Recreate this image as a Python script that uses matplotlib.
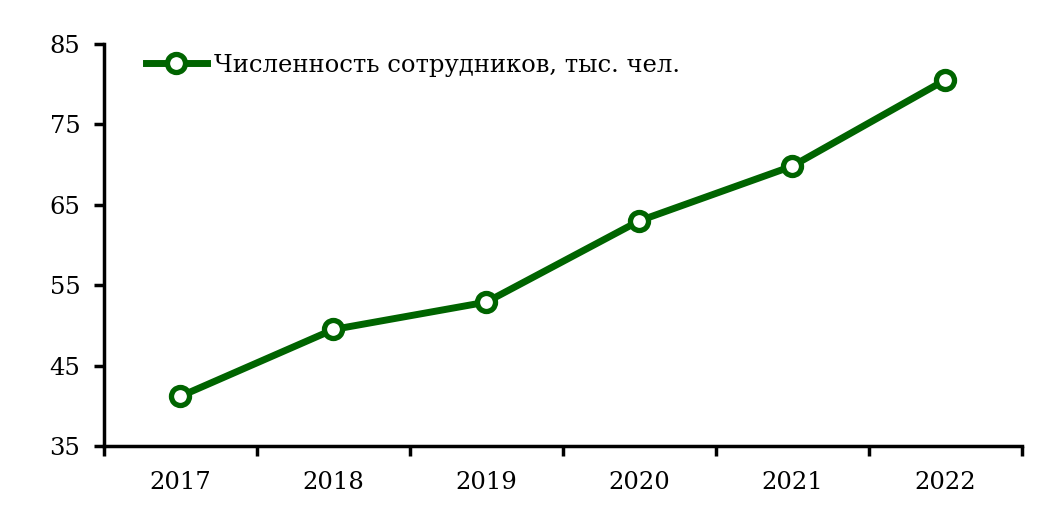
import matplotlib
matplotlib.use("Agg")
import matplotlib.pyplot as plt
from matplotlib.lines import Line2D

years = ["2017", "2018", "2019", "2020", "2021", "2022"]
staff = [41.2, 49.5, 52.9, 63.0, 69.8, 80.5]
y_ticks = [35, 45, 55, 65, 75, 85]
series_label = "Численность сотрудников, тыс. чел."

plt.rcParams['font.family'] = ['DejaVu Serif']
fig = plt.figure(figsize=(10.5, 5.28), dpi=100)
ax = fig.add_axes([0.099, 0.155, 0.874, 0.762])

green = "#006400"
FS = 17.5
x = list(range(len(years)))
ax.plot(x, staff, color=green, lw=5, marker="o", markersize=13,
        markerfacecolor="white", markeredgecolor=green, markeredgewidth=3.8,
        solid_capstyle="round", zorder=3)

ax.set_xlim(-0.5, len(years) - 0.5)
ax.set_ylim(35, 85)
ax.set_yticks(y_ticks)
ax.set_yticklabels([str(v) for v in y_ticks], fontsize=FS)
ax.set_xticks([i - 0.5 for i in range(len(years) + 1)], minor=False)
ax.set_xticklabels([])
ax.set_xticks(x, minor=True)
ax.set_xticklabels(years, minor=True, fontsize=FS)
ax.tick_params(axis="x", which="minor", length=0, pad=18)
ax.tick_params(axis="x", which="major", direction="out", length=7, width=2.5)
ax.tick_params(axis="y", direction="out", length=7, width=2.5, pad=10)

for s in ["top", "right"]:
    ax.spines[s].set_visible(False)
for s in ["left", "bottom"]:
    ax.spines[s].set_linewidth(2.5)

handle = Line2D([], [], color=green, lw=5, marker="o", markersize=13,
                markerfacecolor="white", markeredgecolor=green, markeredgewidth=3.8)
ax.legend([handle], [series_label], loc="upper left", frameon=False,
          fontsize=FS, bbox_to_anchor=(0.035, 1.0), handlelength=2.5,
          handletextpad=0.3, borderaxespad=0)

fig.savefig("out.png", dpi=100)
